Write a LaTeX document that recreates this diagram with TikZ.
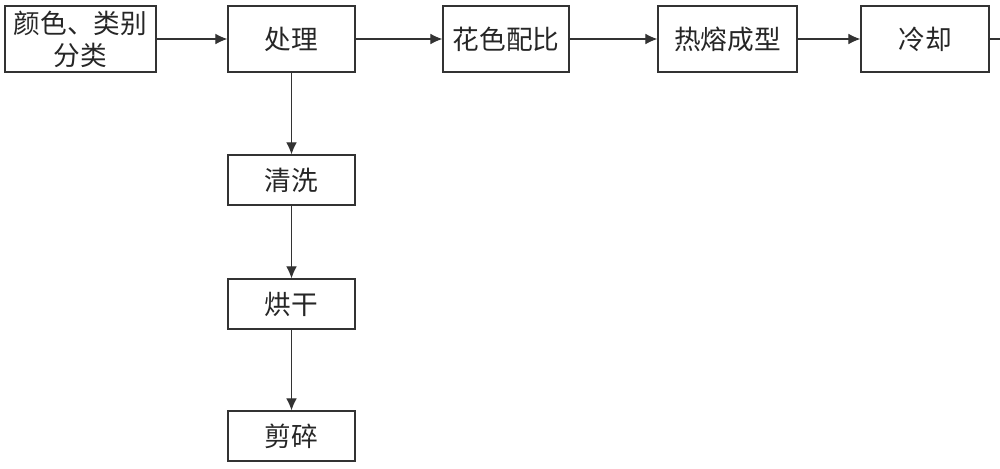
\documentclass[tikz,border=0pt]{standalone}
\usepackage{fontspec}
\setmainfont{Noto Sans CJK SC}
\usetikzlibrary{arrows.meta}
\begin{document}
\begin{tikzpicture}[x=0.75pt,y=-0.75pt,
  box/.style={draw=black!80,line width=0.9pt,inner sep=0pt,font=\fontsize{20}{24}\selectfont,text=black!85},
  conn/.style={draw=black!80,line width=0.8pt,-{Latex[length=9pt,width=8pt]}}]
\useasboundingbox (0,0) rectangle (1000,468);
\node[box,minimum width=151*0.75pt,minimum height=66*0.75pt,align=center] (b1) at (80.5,39) {颜色、类别\\分类};
\node[box,minimum width=127*0.75pt,minimum height=66*0.75pt] (b2) at (291.5,39) {处理};
\node[box,minimum width=126*0.75pt,minimum height=66*0.75pt] (b3) at (506,39) {花色配比};
\node[box,minimum width=139*0.75pt,minimum height=66*0.75pt] (b4) at (727.5,39) {热熔成型};
\node[box,minimum width=128*0.75pt,minimum height=66*0.75pt] (b5) at (925,39) {冷却};
\node[box,minimum width=127*0.75pt,minimum height=50*0.75pt] (c1) at (291.5,180) {清洗};
\node[box,minimum width=127*0.75pt,minimum height=50*0.75pt] (c2) at (291.5,304) {烘干};
\node[box,minimum width=127*0.75pt,minimum height=50*0.75pt] (c3) at (291.5,436) {剪碎};
\coordinate (out) at (1002,39);
\draw[conn] (b1) -- (b2);
\draw[conn] (b2) -- (b3);
\draw[conn] (b3) -- (b4);
\draw[conn] (b4) -- (b5);
\draw[draw=black!80,line width=0.8pt] (b5) -- (out);
\draw[conn] (b2) -- (c1);
\draw[conn] (c1) -- (c2);
\draw[conn] (c2) -- (c3);
\end{tikzpicture}
\end{document}
